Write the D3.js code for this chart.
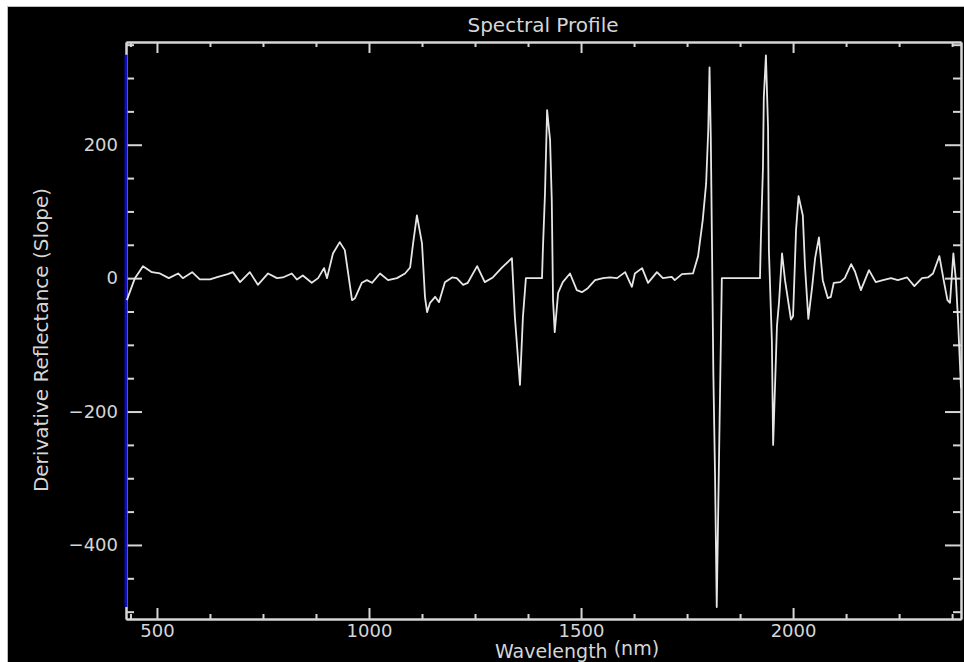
<!DOCTYPE html>
<html>
<head>
<meta charset="utf-8">
<script src="https://cdn.jsdelivr.net/npm/d3@7"></script>
<style>
  html, body { margin: 0; padding: 0; background: #fff; }
  svg { display: block; }
  text { font-family: "DejaVu Sans", sans-serif; fill: #d6d6d6; }
</style>
</head>
<body>
<script>
// Values
const wavelength = [429,448,467,488,507,528,550,561,583,601,
  625,644,667,679,696,719,738,762,783,797,
  818,830,844,865,880,894,901,915,931,943,
  960,967,983,995,1007,1026,1045,1066,1085,1097,
  1104,1113,1125,1132,1137,1144,1156,1165,1179,1196,
  1207,1222,1233,1255,1273,1292,1314,1337,1344,1356,
  1363,1370,1408,1410,1415,1420,1427,1431,1434,1438,
  1446,1457,1474,1490,1502,1516,1533,1552,1568,1585,
  1604,1620,1627,1644,1658,1679,1693,1714,1721,1738,
  1764,1776,1787,1795,1800,1803,1806,1809,1812,1816,
  1820,1826,1830,1832,1922,1924,1929,1931,1936,1941,
  1943,1950,1953,1962,1967,1974,1981,1995,2000,2007,
  2013,2023,2028,2036,2045,2052,2061,2070,2082,2089,
  2096,2111,2122,2137,2146,2160,2179,2195,2212,2231,
  2247,2269,2286,2304,2318,2330,2345,2356,2364,2370,
  2378,2384,2389,2396];

const slope = [-33,0,18,9,7,0,7,0,9,-2,
  -2,2,6,9,-6,9,-10,7,0,1,
  7,-2,4,-7,0,15,0,37,54,42,
  -33,-30,-7,-3,-7,7,-3,0,7,16,
  52,94,52,-28,-51,-37,-28,-36,-6,1,
  0,-10,-7,18,-6,1,16,30,-58,-160,
  -58,0,0,42,127,252,207,117,-33,-81,
  -22,-6,7,-18,-21,-15,-3,0,1,0,
  9,-13,7,15,-7,9,0,2,-3,6,
  7,33,87,142,222,316,211,37,-142,-295,
  -493,-245,-84,0,0,57,166,271,334,226,
  42,-93,-250,-72,-35,37,-3,-62,-57,72,
  123,94,19,-61,-13,30,61,-3,-30,-28,
  -7,-6,0,21,10,-18,12,-6,-3,0,
  -3,1,-12,0,1,7,33,-6,-33,-37,
  37,-3,-63,-165];

const xMajorTicks = [500, 1000, 1500, 2000];
const xMinorTicks = [437.5, 625, 750, 875, 1125, 1250, 1375, 1625, 1750, 1875, 2125, 2250, 2375];
const yMajorTicks = [-400, -200, 0, 200];
const yMinorTicks = [-500, -450, -350, -300, -250, -150, -100, -50, 50, 100, 150, 250, 300, 350];

const xDomain = [427, 2396];
const yDomain = [-511, 354];

const SVG_WIDTH = 964, SVG_HEIGHT = 662;
const plot = {left: 126, top: 42, right: 961, bottom: 619};
const FG = "#d6d6d6";

let svg = null;
let x, y = null;

// Main Process
appendSvg("body");
drawBackground();
setupScales();
appendAxes();
appendLine();
appendLabels();

function appendSvg(domElement) {
  svg = d3.select(domElement).append("svg")
    .attr("width", SVG_WIDTH)
    .attr("height", SVG_HEIGHT);
}

function drawBackground() {
  svg.append("rect")
    .attr("x", 7.5).attr("y", 6.5)
    .attr("width", SVG_WIDTH - 7).attr("height", SVG_HEIGHT - 6)
    .attr("fill", "#000")
    .attr("stroke", "#bdbdbd");
}

function setupScales() {
  x = d3.scaleLinear().domain(xDomain).range([plot.left, plot.right]);
  y = d3.scaleLinear().domain(yDomain).range([plot.bottom, plot.top]);
}

function styleAxis(g) {
  g.selectAll("path, line").attr("stroke", FG).attr("stroke-width", 2);
  g.selectAll("text").attr("fill", FG).attr("font-size", 18)
    .attr("font-family", "DejaVu Sans, sans-serif");
}

function appendAxes() {
  // bottom
  svg.append("g").attr("transform", `translate(0,${plot.bottom})`)
    .call(d3.axisBottom(x).tickValues(xMajorTicks).tickSize(-11).tickSizeOuter(0)
      .tickPadding(5).tickFormat(d3.format("d")))
    .call(styleAxis);
  svg.append("g").attr("transform", `translate(0,${plot.bottom})`)
    .call(d3.axisBottom(x).tickValues(xMinorTicks).tickSize(-5).tickSizeOuter(0).tickFormat(""))
    .call(styleAxis);
  // top
  svg.append("g").attr("transform", `translate(0,${plot.top})`)
    .call(d3.axisTop(x).tickValues(xMajorTicks).tickSize(-11).tickSizeOuter(0).tickFormat(""))
    .call(styleAxis);
  svg.append("g").attr("transform", `translate(0,${plot.top})`)
    .call(d3.axisTop(x).tickValues(xMinorTicks).tickSize(-5).tickSizeOuter(0).tickFormat(""))
    .call(styleAxis);
  // left
  svg.append("g").attr("transform", `translate(${plot.left},0)`)
    .call(d3.axisLeft(y).tickValues(yMajorTicks).tickSize(-16).tickSizeOuter(0)
      .tickPadding(8).tickFormat(d => d < 0 ? "\u2212" + Math.abs(d) : d))
    .call(styleAxis);
  svg.append("g").attr("transform", `translate(${plot.left},0)`)
    .call(d3.axisLeft(y).tickValues(yMinorTicks).tickSize(-8).tickSizeOuter(0).tickFormat(""))
    .call(styleAxis);
  // right
  svg.append("g").attr("transform", `translate(${plot.right},0)`)
    .call(d3.axisRight(y).tickValues(yMajorTicks).tickSize(-16).tickSizeOuter(0).tickFormat(""))
    .call(styleAxis);
  svg.append("g").attr("transform", `translate(${plot.right},0)`)
    .call(d3.axisRight(y).tickValues(yMinorTicks).tickSize(-8).tickSizeOuter(0).tickFormat(""))
    .call(styleAxis);

  // blue marker line over the left axis
  svg.append("line")
    .attr("x1", plot.left).attr("x2", plot.left)
    .attr("y1", y(335)).attr("y2", y(-493))
    .attr("stroke", "#0c0cc4").attr("stroke-width", 3);
}

function appendLine() {
  svg.append("clipPath").attr("id", "clip")
    .append("rect")
    .attr("x", plot.left).attr("y", plot.top)
    .attr("width", plot.right - plot.left).attr("height", plot.bottom - plot.top);

  const line = d3.line()
    .x((d, i) => x(wavelength[i]))
    .y(d => y(d));

  svg.append("path")
    .datum(slope)
    .attr("clip-path", "url(#clip)")
    .attr("fill", "none")
    .attr("stroke", "#e6e6e6")
    .attr("stroke-width", 1.8)
    .attr("stroke-linejoin", "round")
    .attr("d", line);
}

function appendLabels() {
  svg.append("text")
    .attr("x", 543).attr("y", 32)
    .attr("text-anchor", "middle")
    .attr("font-size", 20)
    .text("Spectral Profile");

  const xl = svg.append("text")
    .attr("x", 577).attr("y", 658)
    .attr("text-anchor", "middle")
    .attr("font-size", 19);
  xl.append("tspan").text("Wavelength ");
  xl.append("tspan").attr("dy", -3).text("(nm)");

  svg.append("text")
    .attr("transform", `translate(48,340) rotate(-90)`)
    .attr("text-anchor", "middle")
    .attr("font-size", 20)
    .text("Derivative Reflectance (Slope)");
}
</script>
</body>
</html>
